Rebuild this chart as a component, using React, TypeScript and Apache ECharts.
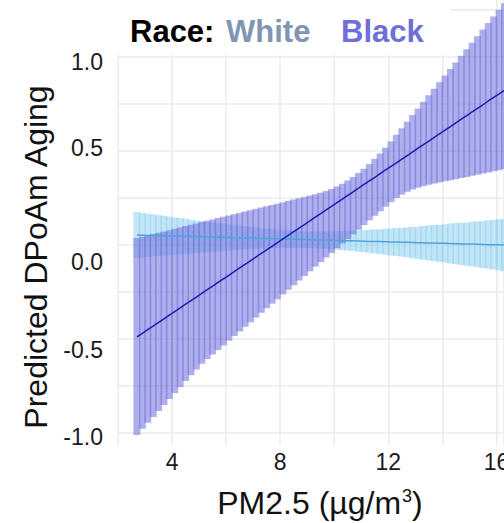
import React, { useEffect, useRef } from "react";
import * as echarts from "echarts";

// PM2.5 grid (µg/m³)
const pm25 = [
  2.7, 2.9, 3.1, 3.3, 3.5, 3.7, 3.9, 4.1, 4.3, 4.5, 4.7, 4.9, 5.1, 5.3, 5.5, 5.7, 5.9, 6.1, 6.3, 6.5,
  6.7, 6.9, 7.1, 7.3, 7.5, 7.7, 7.9, 8.1, 8.3, 8.5, 8.7, 8.9, 9.1, 9.3, 9.5, 9.7, 9.9, 10.1, 10.3, 10.5,
  10.7, 10.9, 11.1, 11.3, 11.5, 11.7, 11.9, 12.1, 12.3, 12.5, 12.7, 12.9, 13.1, 13.3, 13.5, 13.7, 13.9, 14.1, 14.3, 14.5,
  14.7, 14.9, 15.1, 15.3, 15.5, 15.7, 15.9, 16.1, 16.3, 16.5,
];

// Race: Black
const blackMean = [
  -0.489, -0.470, -0.450, -0.431, -0.412, -0.393, -0.373, -0.354, -0.335, -0.315, -0.296, -0.277, -0.257, -0.238, -0.219, -0.199, -0.180, -0.161, -0.142, -0.122,
  -0.103, -0.084, -0.064, -0.045, -0.026, -0.007, 0.013, 0.032, 0.051, 0.071, 0.090, 0.109, 0.129, 0.148, 0.167, 0.187, 0.206, 0.225, 0.244, 0.264,
  0.283, 0.302, 0.322, 0.341, 0.360, 0.380, 0.399, 0.418, 0.437, 0.457, 0.476, 0.495, 0.515, 0.534, 0.553, 0.573, 0.592, 0.611, 0.630, 0.650,
  0.669, 0.688, 0.708, 0.727, 0.746, 0.766, 0.785, 0.804, 0.823, 0.843,
];
const blackLow = [
  -1.010, -0.978, -0.946, -0.915, -0.883, -0.851, -0.819, -0.787, -0.756, -0.724, -0.693, -0.662, -0.632, -0.607, -0.583, -0.558, -0.534, -0.509, -0.484, -0.460,
  -0.435, -0.411, -0.386, -0.361, -0.337, -0.312, -0.288, -0.263, -0.238, -0.214, -0.189, -0.165, -0.140, -0.115, -0.091, -0.066, -0.042, -0.017, 0.008, 0.032,
  0.057, 0.081, 0.106, 0.131, 0.155, 0.180, 0.204, 0.228, 0.250, 0.268, 0.283, 0.295, 0.305, 0.313, 0.320, 0.327, 0.333, 0.339, 0.345, 0.350,
  0.356, 0.362, 0.368, 0.374, 0.380, 0.386, 0.392, 0.398, 0.404, 0.410,
];
const blackHigh = [
  0.037, 0.044, 0.051, 0.058, 0.065, 0.072, 0.079, 0.086, 0.093, 0.101, 0.108, 0.115, 0.122, 0.129, 0.136, 0.143, 0.150, 0.157, 0.164, 0.171,
  0.178, 0.185, 0.192, 0.199, 0.206, 0.213, 0.220, 0.227, 0.235, 0.242, 0.249, 0.256, 0.263, 0.270, 0.278, 0.287, 0.298, 0.311, 0.326, 0.343,
  0.362, 0.383, 0.406, 0.431, 0.458, 0.487, 0.518, 0.551, 0.586, 0.621, 0.656, 0.691, 0.726, 0.761, 0.796, 0.831, 0.866, 0.901, 0.936, 0.971,
  1.006, 1.041, 1.076, 1.111, 1.146, 1.181, 1.216, 1.251, 1.286, 1.321,
];

// Race: White
const whiteMean = [
  0.053, 0.052, 0.051, 0.051, 0.050, 0.049, 0.048, 0.048, 0.047, 0.046, 0.045, 0.044, 0.044, 0.043, 0.042, 0.041, 0.041, 0.040, 0.039, 0.038,
  0.037, 0.037, 0.036, 0.035, 0.034, 0.034, 0.033, 0.032, 0.031, 0.030, 0.030, 0.029, 0.028, 0.027, 0.026, 0.026, 0.025, 0.024, 0.023, 0.023,
  0.022, 0.021, 0.020, 0.019, 0.019, 0.018, 0.017, 0.016, 0.016, 0.015, 0.014, 0.013, 0.012, 0.012, 0.011, 0.010, 0.009, 0.009, 0.008, 0.007,
  0.006, 0.005, 0.005, 0.004, 0.003, 0.002, 0.002, 0.001, 0.000, -0.001,
];
const whiteLow = [
  -0.069, -0.067, -0.064, -0.061, -0.059, -0.057, -0.054, -0.051, -0.049, -0.047, -0.045, -0.042, -0.039, -0.037, -0.035, -0.034, -0.031, -0.029, -0.027, -0.026,
  -0.024, -0.022, -0.021, -0.019, -0.019, -0.017, -0.016, -0.016, -0.016, -0.016, -0.015, -0.016, -0.017, -0.018, -0.020, -0.021, -0.023, -0.025, -0.028, -0.030,
  -0.032, -0.036, -0.039, -0.042, -0.045, -0.048, -0.052, -0.056, -0.059, -0.062, -0.066, -0.070, -0.074, -0.078, -0.082, -0.086, -0.090, -0.093, -0.098, -0.102,
  -0.106, -0.110, -0.114, -0.118, -0.122, -0.127, -0.130, -0.135, -0.139, -0.143,
];
const whiteHigh = [
  0.175, 0.171, 0.166, 0.163, 0.159, 0.155, 0.150, 0.147, 0.143, 0.139, 0.135, 0.130, 0.127, 0.123, 0.119, 0.116, 0.113, 0.109, 0.105, 0.102,
  0.098, 0.096, 0.093, 0.089, 0.087, 0.085, 0.082, 0.080, 0.078, 0.076, 0.075, 0.074, 0.073, 0.072, 0.072, 0.073, 0.073, 0.073, 0.074, 0.076,
  0.076, 0.078, 0.079, 0.080, 0.083, 0.084, 0.086, 0.088, 0.091, 0.092, 0.094, 0.096, 0.098, 0.102, 0.104, 0.106, 0.108, 0.111, 0.114, 0.116,
  0.118, 0.120, 0.124, 0.126, 0.128, 0.131, 0.134, 0.137, 0.139, 0.141,
];

const yLabelValues = [1.0, 0.5, 0.0, -0.5, -1.0];
const xLabelValues = [4, 8, 12, 16];

const FONT = "'Liberation Sans', Arial, Helvetica, sans-serif";
const BAR_HALF = 0.13;
const GRID_COLOR = "#ebebeb";
const TICK_COLOR = "#1a1a1a";

// vertical nudges (px) of y tick labels as they appear in the reference
const yLabelNudge: Record<string, number> = { "1.0": 5, "0.5": -3, "0.0": 17, "-0.5": 11, "-1.0": 4 };

function barSeries(name: string, lo: number[], hi: number[], color: string) {
  return {
    type: "custom",
    name,
    clip: true,
    encode: { x: 0, y: [1, 2] },
    data: pm25.map((x, i) => [x, lo[i], hi[i]]),
    renderItem: (_params: any, api: any) => {
      const x = api.value(0);
      const p1 = api.coord([x - BAR_HALF, api.value(2)]);
      const p2 = api.coord([x + BAR_HALF, api.value(1)]);
      return {
        type: "rect",
        shape: { x: p1[0], y: p1[1], width: p2[0] - p1[0], height: p2[1] - p1[1] },
        style: { fill: color },
      };
    },
  };
}

function lineSeries(name: string, mean: number[], color: string) {
  return {
    type: "line",
    name,
    clip: true,
    symbol: "none",
    data: pm25.map((x, i) => [x, mean[i]]),
    lineStyle: { color, width: 1.5 },
    z: 5,
  };
}

export default function App() {
  const ref = useRef<HTMLDivElement>(null);

  useEffect(() => {
    if (!ref.current) return;
    const chart = echarts.init(ref.current, undefined, { renderer: "svg" });

    const rich: Record<string, any> = {};
    yLabelValues.forEach((v, i) => {
      const key = v.toFixed(1);
      const n = yLabelNudge[key] || 0;
      rich["k" + i] = {
        fontSize: 23,
        fontFamily: FONT,
        color: TICK_COLOR,
        padding: n >= 0 ? [2 * n, 0, 0, 0] : [0, 0, -2 * n, 0],
      };
    });

    chart.setOption({
      animation: false,
      backgroundColor: "#ffffff",
      grid: { left: 118, right: 0, top: 0, bottom: 78, containLabel: false, outerBoundsMode: "none" },
      xAxis: {
        type: "value",
        min: 2,
        max: 16.28,
        interval: 2,
        axisLine: { show: false },
        axisTick: { show: false },
        splitLine: { show: true, lineStyle: { color: GRID_COLOR, width: 1.6 } },
        axisLabel: {
          fontSize: 23,
          fontFamily: FONT,
          color: TICK_COLOR,
          margin: 5,
          showMaxLabel: false,
          hideOverlap: false,
          formatter: (v: number) => (xLabelValues.indexOf(v) >= 0 ? String(v) : ""),
        },
      },
      yAxis: {
        type: "value",
        min: -1.0638,
        max: 1.3032,
        minInterval: 0.25,
        maxInterval: 0.25,
        axisLine: { show: false },
        axisTick: { show: false },
        splitLine: { show: true, showMinLine: false, showMaxLine: false, lineStyle: { color: GRID_COLOR, width: 1.6 } },
        axisLabel: {
          margin: 15,
          fontSize: 23,
          fontFamily: FONT,
          color: TICK_COLOR,
          showMinLabel: false,
          showMaxLabel: false,
          rich,
          formatter: (v: number) => {
            const idx = yLabelValues.findIndex((t) => Math.abs(t - v) < 1e-6);
            if (idx < 0) return "";
            return "{k" + idx + "|" + yLabelValues[idx].toFixed(1) + "}";
          },
        },
      },
      graphic: [
        { type: "rect", z: 1, shape: { x: 110, y: 0, width: 340, height: 55 }, style: { fill: "#ffffff" } },
        {
          type: "text", z: 3, x: 130, y: 31,
          style: { text: "Race:", fill: "#000000", font: `bold 31px ${FONT}`, align: "left", verticalAlign: "middle", textAlign: "left", textVerticalAlign: "middle" },
        },
        {
          type: "text", z: 3, x: 226, y: 31,
          style: { text: "White", fill: "#7f96b2", font: `bold 31px ${FONT}`, align: "left", verticalAlign: "middle", textAlign: "left", textVerticalAlign: "middle" },
        },
        {
          type: "text", z: 3, x: 341, y: 31,
          style: { text: "Black", fill: "#6f6fd9", font: `bold 31px ${FONT}`, align: "left", verticalAlign: "middle", textAlign: "left", textVerticalAlign: "middle" },
        },
        {
          type: "text", z: 3, x: 320, y: 503,
          style: {
            text: "PM2.5 (µg/m{sup|3})",
            fill: "#111111",
            font: `32px ${FONT}`,
            align: "center", verticalAlign: "middle", textAlign: "center", textVerticalAlign: "middle",
            rich: { sup: { fontSize: 18, fontFamily: FONT, fill: "#111111", verticalAlign: "top", padding: [0, 0, 0, 1] } },
          },
        },
        {
          type: "text", z: 3, x: 36, y: 257, rotation: Math.PI / 2,
          style: {
            text: "Predicted DPoAm Aging",
            fill: "#111111",
            font: `32px ${FONT}`,
            align: "center", verticalAlign: "middle", textAlign: "center", textVerticalAlign: "middle",
          },
        },
      ],
      series: [
        barSeries("White CI", whiteLow, whiteHigh, "rgba(135,206,240,0.5)"),
        barSeries("Black CI", blackLow, blackHigh, "rgba(110,110,220,0.55)"),
        lineSeries("White", whiteMean, "#4fa3dc"),
        lineSeries("Black", blackMean, "#1c1cb4"),
      ],
    });

    return () => chart.dispose();
  }, []);

  return (
    <div
      ref={ref}
      style={{ position: "absolute", left: 0, top: 0, width: 504, height: 523, overflow: "hidden", background: "#fff" }}
    />
  );
}
